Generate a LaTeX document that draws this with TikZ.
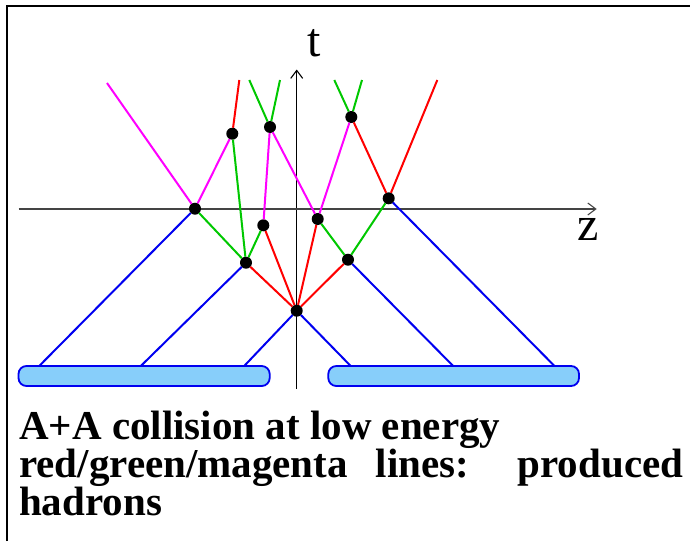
\documentclass[tikz,border=0pt]{standalone}
\usepackage{fontspec}
\setmainfont{Liberation Serif}
\usetikzlibrary{arrows.meta}
\definecolor{hadred}{HTML}{FF0000}
\definecolor{hadgreen}{HTML}{00C800}
\definecolor{hadmag}{HTML}{FF00FF}
\definecolor{nucblue}{HTML}{0000F0}
\definecolor{nucfill}{HTML}{87CEFA}
\definecolor{axisgray}{HTML}{444444}
\tikzset{
  axisarr/.style={-{Straight Barb[length=8pt,width=12pt]},line width=1.1pt},
  redline/.style={draw=hadred,line width=2pt},
  greenline/.style={draw=hadgreen,line width=2pt},
  magline/.style={draw=hadmag,line width=2pt},
  blueline/.style={draw=nucblue,line width=2pt},
  vtx/.style={circle,fill=black,inner sep=0pt,outer sep=0pt,minimum size=12pt},
  nucleus/.style={draw=nucblue,fill=nucfill,line width=1.8pt,rounded corners=8pt,minimum height=20pt,inner sep=0pt},
  axlabel/.style={font=\fontsize{48}{48}\selectfont,inner sep=0pt,anchor=base},
  captext/.style={font=\fontsize{41}{41}\selectfont\bfseries,inner sep=0pt,anchor=base west}
}
\begin{document}
\begin{tikzpicture}[x=1pt,y=-1pt]
  \useasboundingbox (0,0) rectangle (690,541);
  \draw[line width=1.7pt] (7,541) -- (7,6) -- (690,6);

  % axes
  \coordinate (tfoot) at (296.7,389); \coordinate (ttip) at (296.7,69.5);
  \coordinate (zfoot) at (18.5,209); \coordinate (ztip) at (596.7,209);
  \draw[axisarr,color=black] (tfoot) -- (ttip);
  \draw[axisarr,color=axisgray] (zfoot) -- (ztip);
  \node[axlabel] (tlab) at (314,56) {t};
  \node[axlabel] (zlab) at (588.5,240) {z};

  % nuclei
  \node[nucleus,minimum width=251.2pt] (lbar) at (144.1,376) {};
  \node[nucleus,minimum width=250.7pt] (rbar) at (453.65,376) {};
  \coordinate (lb1) at (39.2,366); \coordinate (lb2) at (140.8,366); \coordinate (lb3) at (244.2,366);
  \coordinate (rb1) at (350.7,366); \coordinate (rb2) at (453.2,366); \coordinate (rb3) at (554.5,366);

  % collision points
  \node[vtx] (o) at (296.7,310.7) {};
  \node[vtx] (l1) at (195,208.7) {};
  \node[vtx] (l2) at (246,262.7) {};
  \node[vtx] (l3) at (263.3,225.3) {};
  \node[vtx] (l4) at (232.3,133.7) {};
  \node[vtx] (l5) at (270,127) {};
  \node[vtx] (r1) at (317.7,219) {};
  \node[vtx] (r2) at (348,259.7) {};
  \node[vtx] (r3) at (351.3,117) {};
  \node[vtx] (r4) at (388.7,198.3) {};

  % outgoing ends
  \coordinate (tl1) at (107,83); \coordinate (tl4) at (239.3,80);
  \coordinate (tl5a) at (249.3,80); \coordinate (tl5b) at (280,80);
  \coordinate (tr3a) at (334.3,80); \coordinate (tr3b) at (362,80);
  \coordinate (tr4) at (437.3,80);

  % nucleons
  \draw[blueline] (lb1) -- (l1); \draw[blueline] (lb2) -- (l2); \draw[blueline] (lb3) -- (o);
  \draw[blueline] (rb1) -- (o); \draw[blueline] (rb2) -- (r2); \draw[blueline] (rb3) -- (r4);

  % produced hadrons
  \draw[redline] (o) -- (l2); \draw[redline] (o) -- (l3); \draw[redline] (o) -- (r1); \draw[redline] (o) -- (r2);
  \draw[redline] (l4) -- (tl4); \draw[redline] (r3) -- (r4); \draw[redline] (r4) -- (tr4);
  \draw[greenline] (l1) -- (l2); \draw[greenline] (l2) -- (l4); \draw[greenline] (l2) -- (l3);
  \draw[greenline] (l5) -- (tl5a); \draw[greenline] (l5) -- (tl5b);
  \draw[greenline] (r1) -- (r2); \draw[greenline] (r2) -- (r4);
  \draw[greenline] (r3) -- (tr3a); \draw[greenline] (r3) -- (tr3b);
  \draw[magline] (l1) -- (tl1); \draw[magline] (l1) -- (l4); \draw[magline] (l3) -- (l5);
  \draw[magline] (l5) -- (r1); \draw[magline] (r1) -- (r3);

  % caption
  \node[captext] (cap1) at (19,439) {A+A collision at low energy};
  \node[captext] (cap2) at (19,477) {\makebox[664pt][s]{red/green/magenta lines: produced}};
  \node[captext] (cap3) at (19,515) {hadrons};
\end{tikzpicture}
\end{document}
